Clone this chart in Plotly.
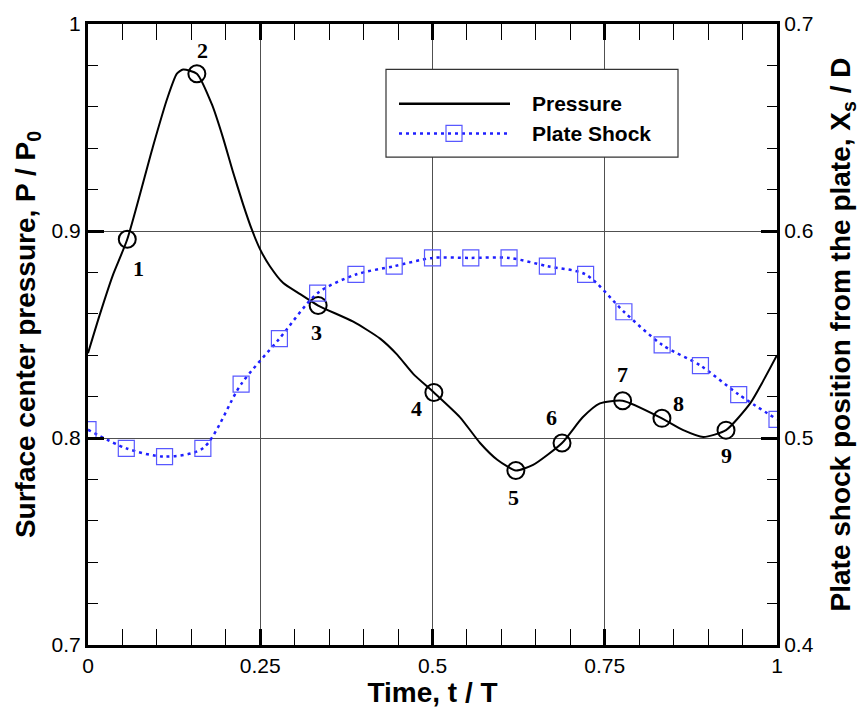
import plotly.graph_objects as go

# Pressure curve
t_curve = [0.0, 0.017, 0.036, 0.057, 0.094, 0.115, 0.129, 0.138, 0.158, 0.18, 0.196, 0.21,
           0.225, 0.238, 0.25, 0.264, 0.283, 0.308, 0.334, 0.385, 0.424, 0.448, 0.472, 0.502,
           0.54, 0.569, 0.594, 0.621, 0.646, 0.688, 0.718, 0.743, 0.776, 0.833, 0.864, 0.893,
           0.926, 0.961, 0.98, 1.0]
p_curve = [0.841, 0.8595, 0.8786, 0.896, 0.9405, 0.964, 0.976, 0.978, 0.976, 0.961, 0.945, 0.929,
           0.913, 0.9005, 0.891, 0.883, 0.875, 0.8695, 0.864, 0.8562, 0.848, 0.8405, 0.831, 0.822,
           0.810, 0.7976, 0.7895, 0.7843, 0.787, 0.7976, 0.810, 0.8167, 0.818, 0.8095, 0.8038, 0.8005,
           0.8038, 0.8167, 0.8276, 0.840]

# Numbered pressure points
t_mark = [0.057, 0.158, 0.334, 0.502, 0.621, 0.688, 0.776, 0.833, 0.926]
p_mark = [0.896, 0.976, 0.864, 0.822, 0.7843, 0.7976, 0.818, 0.8095, 0.8038]
mark_labels = ["1", "2", "3", "4", "5", "6", "7", "8", "9"]

# Plate shock position
t_shock = [0.0, 0.0556, 0.1111, 0.1667, 0.2222, 0.2778, 0.3333, 0.3889, 0.4444, 0.5,
           0.5556, 0.6111, 0.6667, 0.7222, 0.7778, 0.8333, 0.8889, 0.9444, 1.0]
x_shock = [0.504, 0.495, 0.491, 0.495, 0.526, 0.548, 0.570, 0.579, 0.583, 0.587,
           0.587, 0.587, 0.583, 0.579, 0.561, 0.545, 0.535, 0.521, 0.509]

x_ticks = [0, 0.25, 0.5, 0.75, 1]
x_ticklabels = ["0", "0.25", "0.5", "0.75", "1"]
y_ticks = [0.7, 0.8, 0.9, 1.0]
y_ticklabels = ["0.7", "0.8", "0.9", "1"]
y2_ticks = [0.4, 0.5, 0.6, 0.7]
y2_ticklabels = ["0.4", "0.5", "0.6", "0.7"]

# label offsets (px) for numbered points
label_shift = [(11, -29), (6, 23), (-2, -27), (-17, -16), (-2, -27), (-11, 25), (0, 26), (17, 15), (0, -25)]

fig = go.Figure()
fig.add_trace(go.Scatter(x=t_curve, y=p_curve, mode="lines", name="Pressure",
                         line=dict(color="black", width=2, shape="spline", smoothing=0.6),
                         showlegend=False))
fig.add_trace(go.Scatter(x=t_mark, y=p_mark, mode="markers", name="points",
                         marker=dict(symbol="circle-open", size=17, color="black",
                                     line=dict(width=2, color="black")),
                         showlegend=False))
fig.add_trace(go.Scatter(x=t_shock, y=x_shock, mode="lines+markers", name="Plate Shock",
                         yaxis="y2",
                         line=dict(color="#1f1fff", width=2.5, dash="3px,4px", shape="spline", smoothing=0.8),
                         marker=dict(symbol="square-open", size=16, color="#5858ff",
                                     line=dict(width=1.2, color="#5858ff")),
                         showlegend=False))

for tx, py, lab, (dx, dy) in zip(t_mark, p_mark, mark_labels, label_shift):
    fig.add_annotation(x=tx, y=py, text="<b>%s</b>" % lab, showarrow=False,
                       xshift=dx, yshift=dy,
                       font=dict(family="Liberation Serif", size=22, color="black"))

# manual legend
lx0, lx1 = (386 - 88) / 689, (678 - 88) / 689
ly0, ly1 = (648 - 153) / 630, (648 - 64) / 630
fig.add_shape(type="rect", xref="paper", yref="paper", x0=lx0, x1=lx1, y0=ly0, y1=ly1,
              line=dict(color="#333", width=1.2), fillcolor="white", layer="above")
yp = (648 - 99) / 630
ys = (648 - 129) / 630
sx0, sx1 = (399 - 88) / 689, (510 - 88) / 689
fig.add_shape(type="line", xref="paper", yref="paper", x0=sx0, x1=sx1, y0=yp, y1=yp,
              line=dict(color="black", width=2.5), layer="above")
fig.add_shape(type="line", xref="paper", yref="paper", x0=sx0, x1=sx1, y0=ys, y1=ys,
              line=dict(color="#1f1fff", width=2.5, dash="3px,4px"), layer="above")
sq = (454 - 88) / 689
fig.add_shape(type="rect", xref="paper", yref="paper", xsizemode="pixel", ysizemode="pixel",
              xanchor=sq, yanchor=ys, x0=-8, x1=8, y0=-8, y1=8,
              line=dict(color="#5858ff", width=1.2), layer="above")
tx0 = (530 - 88) / 689
fig.add_annotation(xref="paper", yref="paper", x=tx0, y=yp, xanchor="left", yanchor="middle",
                   text="<b>Pressure</b>", showarrow=False,
                   font=dict(family="Liberation Sans", size=21, color="black"))
fig.add_annotation(xref="paper", yref="paper", x=tx0, y=ys, xanchor="left", yanchor="middle",
                   text="<b>Plate Shock</b>", showarrow=False,
                   font=dict(family="Liberation Sans", size=21, color="black"))

tick_font = dict(family="Liberation Sans", size=21, color="black")
title_font = dict(family="Liberation Sans", size=28, color="black")

fig.update_layout(
    width=866, height=711,
    margin=dict(l=88, r=89, t=18, b=63),
    paper_bgcolor="white", plot_bgcolor="white",
    xaxis=dict(range=[0, 1], tickvals=x_ticks, ticktext=x_ticklabels,
               showline=True, linecolor="black", linewidth=3, mirror="allticks",
               ticks="inside", ticklen=16, tickwidth=3, tickcolor="black",
               minor=dict(dtick=0.05, ticks="inside", ticklen=10, tickwidth=1, tickcolor="black", showgrid=False),
               showgrid=True, gridcolor="#505050", gridwidth=1, zeroline=False,
               tickfont=tick_font,
               title=dict(text="<b>Time, t / T</b>", font=title_font, standoff=2)),
    yaxis=dict(range=[0.7, 1.0], tickvals=y_ticks, ticktext=y_ticklabels,
               showline=True, linecolor="black", linewidth=3, mirror=False,
               ticks="inside", ticklen=16, tickwidth=3, tickcolor="black",
               minor=dict(dtick=0.02, ticks="inside", ticklen=10, tickwidth=1, tickcolor="black", showgrid=False),
               showgrid=True, gridcolor="#505050", gridwidth=1, zeroline=False,
               tickfont=tick_font,
               title=dict(text="<b>Surface center pressure, P / P<sub>0</sub></b>", font=title_font, standoff=8)),
    yaxis2=dict(range=[0.4, 0.7], tickvals=y2_ticks, ticktext=y2_ticklabels,
                overlaying="y", side="right",
                showline=True, linecolor="black", linewidth=3,
                ticks="inside", ticklen=16, tickwidth=3, tickcolor="black",
                minor=dict(dtick=0.02, ticks="inside", ticklen=10, tickwidth=1, tickcolor="black", showgrid=False),
                showgrid=False, zeroline=False,
                tickfont=tick_font,
                title=dict(text="<b>Plate shock position from the plate, X<sub>s</sub> / D</b>", font=title_font, standoff=18)),
)

fig.write_html("out.html", config={"displayModeBar": False},
               post_script="document.body.style.margin='0';document.body.style.overflow='hidden';")
